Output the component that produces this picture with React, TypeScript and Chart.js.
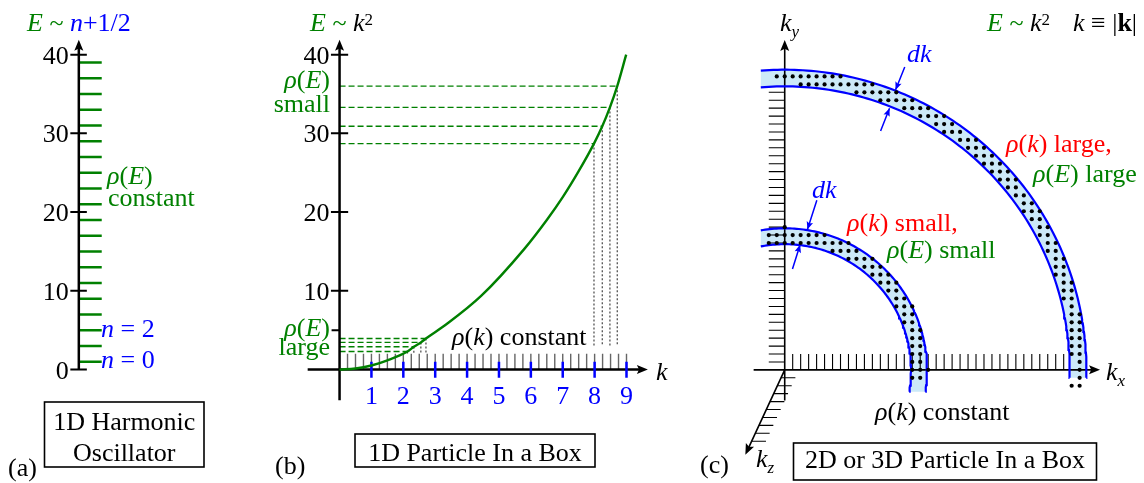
import React, { useEffect, useRef } from "react";
import { Chart, registerables } from "chart.js";

Chart.register(...registerables);

const W = 1144;
const H = 483;
const FONT = '"Liberation Serif", "Times New Roman", serif';
const FS = 26;
const FS_SMALL = 17;
const GREEN = "#008000";
const BLUE = "#0000ff";
const RED = "#ff0000";
const BLACK = "#000000";
const GRAY = "#666666";
const DOT_GRAY = "#444444";
const RING_FILL = "#cce9f8";

// ---------------- Panel (a): 1D harmonic oscillator ----------------
const oscLevelE = [1, 3, 5, 7, 9, 11, 13, 15, 17, 19, 21, 23, 25, 27, 29, 31, 33, 35, 37, 39];
const oscTickE = [0, 10, 20, 30, 40];

// ---------------- Panel (b): 1D particle in a box ----------------
const boxTickE = [10, 20, 30, 40];
const boxMinorTickE = [5];
const boxKTicks = [1, 2, 3, 4, 5, 6, 7, 8, 9];
const boxStateK = Array.from({ length: 36 }, (_, i) => (i + 1) / 4);
const curveK = [0, 0.5, 1, 1.5, 2.13, 2.33, 2.55, 2.71, 3.35, 4.44, 5.79, 6.5, 7.0, 7.5, 7.98, 8.24, 8.48, 8.71, 8.99];
const curveE = [0, 0.13, 0.52, 1.18, 2.3, 2.9, 3.45, 3.95, 5.75, 9.35, 15.3, 19.0, 21.9, 25.2, 28.7, 30.9, 33.3, 36.0, 40.0];
const denseK = [2.13, 2.33, 2.55, 2.71];
const denseE = [2.3, 2.9, 3.45, 3.95];
const sparseK = [7.98, 8.24, 8.48, 8.71];
const sparseE = [28.7, 30.9, 33.3, 36.0];

// ---------------- Panel (c): 2D / 3D particle in a box ----------------
const ringInnerR = [15.85, 35.75];
const ringOuterR = [17.85, 37.85];
const ringCutX = [-3, -3];
const ringCutY = [-2.75, -1];
const ringDotMinR = [15.95, 36.02];
const ringDotMaxR = [18.01, 37.8];
const ringDotMinI = [-2, -1];
const ringDotMinJ = [-1, -2];
const kxTickCount = 35;
const kyTickCount = 35;
const kzTickCount = 9;
const kzTip = [-4.94, -10.71];
const dkFromX = [15.06, 12.03, 4.03, 0.975];
const dkFromY = [38.2, 30.13, 21.38, 12.71];
const dkToX = [13.9, 13.15, 2.85, 1.94];
const dkToY = [35.3, 33.0, 17.7, 15.8];

// ---------------- helpers ----------------
const segData = (segs: number[][]) => {
  const out: any[] = [];
  segs.forEach(([x1, y1, x2, y2]) => {
    out.push({ x: x1, y: y1 }, { x: x2, y: y2 }, { x: x2, y: null });
  });
  return out;
};

const arcPts = (R: number, cutX: number, cutY: number) => {
  const a0 = Math.asin(cutY / R);
  const a1 = Math.acos(cutX / R);
  const n = 120;
  const pts: any[] = [];
  for (let s = 0; s <= n; s++) {
    const a = a0 + ((a1 - a0) * s) / n;
    pts.push({ x: R * Math.cos(a), y: R * Math.sin(a) });
  }
  return pts;
};

const span = (origin: number, perUnit: number, size: number, up: boolean) =>
  up
    ? { min: -(size - origin) / perUnit, max: origin / perUnit }
    : { min: -origin / perUnit, max: (size - origin) / perUnit };

function buildDatasets() {
  const L = (data: any[], xAxisID: string, yAxisID: string, color: string, width: number, extra: any = {}) => ({
    data,
    xAxisID,
    yAxisID,
    showLine: true,
    borderColor: color,
    backgroundColor: color,
    borderWidth: width,
    pointRadius: 0,
    pointHoverRadius: 0,
    pointHitRadius: 0,
    fill: false,
    order: 5,
    ...extra,
  });
  const ds: any[] = [];

  // panel (a)
  ds.push(L(segData(oscLevelE.map((e) => [0, e, 1, e])), "xa", "yE", GREEN, 2.5));
  ds.push(L(segData(oscTickE.map((e) => [-0.37, e, 0.35, e])), "xa", "yE", BLACK, 2));
  ds.push(L([{ x: 0, y: 0 }, { x: 0, y: 41.2 }], "xa", "yE", BLACK, 2.5, { order: 4 }));

  // panel (b)
  ds.push(L(segData(boxStateK.map((k) => [k, 0, k, 2])), "xk", "yE", GRAY, 1.4, { order: 6 }));
  ds.push(
    L(
      segData([
        ...sparseK.map((k, i) => [0, sparseE[i], k, sparseE[i]]),
        ...denseK.map((k, i) => [0, denseE[i], k, denseE[i]]),
      ]),
      "xk",
      "yE",
      GREEN,
      1.4,
      { borderDash: [6, 3] }
    )
  );
  ds.push(
    L(
      segData([
        ...sparseK.map((k, i) => [k, sparseE[i], k, 3]),
        ...denseK.map((k, i) => [k, denseE[i], k, 2]),
      ]),
      "xk",
      "yE",
      DOT_GRAY,
      1.2,
      { borderDash: [2, 2] }
    )
  );
  ds.push(
    L(curveK.map((k, i) => ({ x: k, y: curveE[i] })), "xk", "yE", GREEN, 2.4, {
      cubicInterpolationMode: "monotone",
      order: 3,
    })
  );
  ds.push(L(segData(boxKTicks.map((k) => [k, 1.0, k, -1.05])), "xk", "yE", BLUE, 2.5, { order: 3 }));
  ds.push(
    L(
      segData([...boxTickE.map((e) => [-0.27, e, 0.27, e]), ...boxMinorTickE.map((e) => [-0.25, e, 0, e])]),
      "xk",
      "yE",
      BLACK,
      2
    )
  );
  ds.push(L([{ x: 0, y: -3.9 }, { x: 0, y: 41.2 }], "xk", "yE", BLACK, 2.5, { order: 4 }));
  ds.push(L([{ x: -1, y: 0 }, { x: 9.5, y: 0 }], "xk", "yE", BLACK, 2.5, { order: 4 }));

  // panel (c): rings
  ringInnerR.forEach((rin, r) => {
    const outer = arcPts(ringOuterR[r], ringCutX[r], ringCutY[r]);
    const inner = arcPts(rin, ringCutX[r], ringCutY[r]);
    ds.push({
      data: [...outer, ...inner.slice().reverse()],
      xAxisID: "xc",
      yAxisID: "yc",
      showLine: false,
      pointRadius: 0,
      pointHoverRadius: 0,
      polyFill: RING_FILL,
      order: 20,
    });
    ds.push(L(outer, "xc", "yc", BLUE, 2.2, { order: 2 }));
    ds.push(L(inner, "xc", "yc", BLUE, 2.2, { order: 2 }));
  });

  // panel (c): lattice ticks
  const kxT: number[][] = [];
  for (let i = 1; i <= kxTickCount; i++) kxT.push([i, 0, i, 2]);
  const kyT: number[][] = [];
  for (let j = 1; j <= kyTickCount; j++) kyT.push([-2, j, 0, j]);
  const kzT: number[][] = [];
  for (let m = 1; m <= kzTickCount; m++) {
    const x0 = (kzTip[0] / -kzTip[1]) * m;
    kzT.push([x0, -m, x0 + 1.8, -m]);
  }
  ds.push(L(segData([...kxT, ...kyT, ...kzT]), "xc", "yc", BLACK, 1.1));

  // panel (c): axes
  ds.push(
    L(
      segData([
        [-3.9, 0, 39.0, 0],
        [0, -3.85, 0, 41.0],
        [0, 0, kzTip[0] * 0.93, kzTip[1] * 0.93],
      ]),
      "xc",
      "yc",
      BLACK,
      1.6,
      { order: 4 }
    )
  );

  // panel (c): dk arrow shafts
  ds.push(
    L(
      segData(dkFromX.map((x, i) => [x, dkFromY[i], dkToX[i], dkToY[i]])),
      "xc",
      "yc",
      BLUE,
      1.5,
      { order: 1 }
    )
  );

  // panel (c): states (lattice points in the shells)
  const dots: any[] = [];
  for (let r = 0; r < 2; r++) {
    for (let i = ringDotMinI[r]; i <= 40; i++) {
      for (let j = ringDotMinJ[r]; j <= 40; j++) {
        const d = Math.hypot(i, j);
        if (d >= ringDotMinR[r] && d <= ringDotMaxR[r]) dots.push({ x: i, y: j });
      }
    }
  }
  ds.push({
    data: dots,
    xAxisID: "xc",
    yAxisID: "yc",
    showLine: false,
    pointRadius: 2.1,
    pointHoverRadius: 2.1,
    backgroundColor: BLACK,
    borderColor: BLACK,
    borderWidth: 0,
    order: 0,
  });
  return ds;
}

// ---------------- text helpers ----------------
type Seg = { t: string; c?: string; i?: boolean; b?: boolean; sup?: boolean; sub?: boolean };
const it = (t: string, c = BLACK): Seg => ({ t, c, i: true });
const rm = (t: string, c = BLACK): Seg => ({ t, c });
const rho = (v: string, c: string): Seg[] => [it("ρ", c), rm("(", c), it(v, c), rm(")", c)];

const segFont = (s: Seg) => {
  const sz = s.sup || s.sub ? FS_SMALL : FS;
  return `${s.i ? "italic " : ""}${s.b ? "bold " : ""}${sz}px ${FONT}`;
};

function drawRich(ctx: CanvasRenderingContext2D, x: number, y: number, segs: Seg[], align = "left") {
  let w = 0;
  segs.forEach((s) => {
    ctx.font = segFont(s);
    w += ctx.measureText(s.t).width;
  });
  let cx = align === "left" ? x : align === "right" ? x - w : x - w / 2;
  ctx.textAlign = "left";
  ctx.textBaseline = "alphabetic";
  segs.forEach((s) => {
    ctx.font = segFont(s);
    ctx.fillStyle = s.c || BLACK;
    const dy = s.sup ? -6 : s.sub ? 6 : 0;
    ctx.fillText(s.t, cx, y + dy);
    cx += ctx.measureText(s.t).width;
  });
}

const annotations: { x: number; y: number; segs: Seg[]; align?: string }[] = [
  // panel (a)
  { x: 27, y: 30.5, segs: [it("E", GREEN), rm(" ~ ", GREEN), it("n", BLUE), rm("+1/2", BLUE)] },
  { x: 107, y: 184, segs: rho("E", GREEN) },
  { x: 108, y: 206, segs: [rm("constant", GREEN)] },
  { x: 101, y: 337, segs: [it("n", BLUE), rm(" = 2", BLUE)] },
  { x: 101, y: 368, segs: [it("n", BLUE), rm(" = 0", BLUE)] },
  { x: 8, y: 476, segs: [rm("(a)")] },
  // panel (b)
  { x: 310, y: 30.5, segs: [it("E", GREEN), rm(" ~ ", GREEN), it("k"), { t: "2", c: BLACK, sup: true }] },
  { x: 330, y: 88, segs: rho("E", GREEN), align: "right" },
  { x: 330, y: 111.5, segs: [rm("small", GREEN)], align: "right" },
  { x: 330, y: 336, segs: rho("E", GREEN), align: "right" },
  { x: 330, y: 354.5, segs: [rm("large", GREEN)], align: "right" },
  { x: 452, y: 345, segs: [...rho("k", BLACK), rm(" constant")] },
  { x: 656, y: 380, segs: [it("k")] },
  { x: 275, y: 474, segs: [rm("(b)")] },
  // panel (c)
  { x: 780, y: 30.7, segs: [it("k"), { t: "y", c: BLACK, i: true, sub: true }] },
  { x: 987, y: 30.7, segs: [it("E", GREEN), rm(" ~ ", GREEN), it("k"), { t: "2", c: BLACK, sup: true }] },
  { x: 1073, y: 30.7, segs: [it("k"), rm(" ≡ |"), { t: "k", c: BLACK, b: true }, rm("|")] },
  { x: 907, y: 62, segs: [it("dk", BLUE)] },
  { x: 812, y: 198, segs: [it("dk", BLUE)] },
  { x: 1006, y: 152, segs: [...rho("k", RED), rm(" large,", RED)] },
  { x: 1033, y: 182, segs: [...rho("E", GREEN), rm(" large", GREEN)] },
  { x: 847, y: 230.5, segs: [...rho("k", RED), rm(" small,", RED)] },
  { x: 887, y: 258, segs: [...rho("E", GREEN), rm(" small", GREEN)] },
  { x: 875, y: 420, segs: [...rho("k", BLACK), rm(" constant")] },
  { x: 1106, y: 380, segs: [it("k"), { t: "x", c: BLACK, i: true, sub: true }] },
  { x: 756, y: 467, segs: [it("k"), { t: "z", c: BLACK, i: true, sub: true }] },
  { x: 700, y: 473, segs: [rm("(c)")] },
];

const boxes = [
  { x: 44.5, y: 402, w: 159.5, h: 65, lines: [{ t: "1D Harmonic", y: 430 }, { t: "Oscillator", y: 461 }] },
  { x: 355, y: 434, w: 240, h: 33, lines: [{ t: "1D Particle In a Box", y: 461 }] },
  { x: 793.5, y: 443, w: 303, h: 37, lines: [{ t: "2D or 3D Particle In a Box", y: 468 }] },
];

const axisArrows = [
  { xs: "xa", ys: "yE", from: [0, 40], to: [0, 41.89] },
  { xs: "xk", ys: "yE", from: [0, 40], to: [0, 41.89] },
  { xs: "xk", ys: "yE", from: [9, 0], to: [9.67, 0] },
  { xs: "xc", ys: "yc", from: [0, 40], to: [0, 41.6] },
  { xs: "xc", ys: "yc", from: [38, 0], to: [39.56, 0] },
  { xs: "xc", ys: "yc", from: [0, 0], to: kzTip },
];

function arrowHead(ctx: CanvasRenderingContext2D, x1: number, y1: number, x2: number, y2: number, len: number, hw: number, color: string) {
  const ang = Math.atan2(y2 - y1, x2 - x1);
  ctx.save();
  ctx.translate(x2, y2);
  ctx.rotate(ang);
  ctx.beginPath();
  ctx.moveTo(0, 0);
  ctx.lineTo(-len, hw);
  ctx.lineTo(-len * 0.8, 0);
  ctx.lineTo(-len, -hw);
  ctx.closePath();
  ctx.fillStyle = color;
  ctx.fill();
  ctx.restore();
}

const diagramPlugin = {
  id: "diagram",
  beforeDatasetsDraw(chart: any) {
    const ctx = chart.ctx;
    chart.data.datasets.forEach((ds: any, i: number) => {
      if (!ds.polyFill) return;
      const pts = chart.getDatasetMeta(i).data;
      ctx.save();
      ctx.beginPath();
      pts.forEach((p: any, k: number) => (k ? ctx.lineTo(p.x, p.y) : ctx.moveTo(p.x, p.y)));
      ctx.closePath();
      ctx.fillStyle = ds.polyFill;
      ctx.fill();
      ctx.restore();
    });
  },
  afterDatasetsDraw(chart: any) {
    const ctx: CanvasRenderingContext2D = chart.ctx;
    const px = (s: string, v: number) => chart.scales[s].getPixelForValue(v);

    // arrowheads on axes
    axisArrows.forEach((a) => {
      arrowHead(ctx, px(a.xs, a.from[0]), px(a.ys, a.from[1]), px(a.xs, a.to[0]), px(a.ys, a.to[1]), 11, 4.5, BLACK);
    });
    // dk arrowheads
    dkFromX.forEach((x, i) => {
      arrowHead(ctx, px("xc", x), px("yc", dkFromY[i]), px("xc", dkToX[i]), px("yc", dkToY[i]), 8, 3.3, BLUE);
    });

    // tick labels
    oscTickE.forEach((e) => drawRich(ctx, px("xa", 0) - 10, px("yE", e) + 9, [rm(String(e))], "right"));
    boxTickE.forEach((e) => drawRich(ctx, px("xk", 0) - 10, px("yE", e) + 9, [rm(String(e))], "right"));
    boxKTicks.forEach((k) => drawRich(ctx, px("xk", k), px("yE", 0) + 34, [rm(String(k), BLUE)], "center"));

    // annotations
    annotations.forEach((a) => drawRich(ctx, a.x, a.y, a.segs, a.align || "left"));

    // boxes
    boxes.forEach((b) => {
      ctx.save();
      ctx.fillStyle = "#ffffff";
      ctx.fillRect(b.x, b.y, b.w, b.h);
      ctx.strokeStyle = BLACK;
      ctx.lineWidth = 1.6;
      ctx.strokeRect(b.x, b.y, b.w, b.h);
      ctx.restore();
      b.lines.forEach((l) => drawRich(ctx, b.x + b.w / 2, l.y, [rm(l.t)], "center"));
    });
  },
};

export default function App() {
  const ref = useRef<HTMLCanvasElement>(null);
  useEffect(() => {
    const lin = (axis: string, r: any) => ({
      type: "linear",
      axis,
      display: false,
      min: r.min,
      max: r.max,
      grid: { display: false },
      ticks: { display: false },
    });
    const chart = new Chart(ref.current as HTMLCanvasElement, {
      type: "scatter",
      data: { datasets: buildDatasets() },
      options: {
        responsive: false,
        maintainAspectRatio: false,
        animation: false,
        devicePixelRatio: 1,
        events: [],
        layout: { padding: 0 },
        plugins: { legend: { display: false }, tooltip: { enabled: false } },
        scales: {
          xa: lin("x", span(77, 23, W, false)),
          xk: lin("x", span(338.7, 32, W, false)),
          xc: lin("x", span(785.5, 8, W, false)),
          yE: lin("y", span(370.7, 7.9425, H, true)),
          yc: lin("y", span(371, 8, H, true)),
        },
      } as any,
      plugins: [diagramPlugin as any],
    } as any);
    return () => chart.destroy();
  }, []);
  return (
    <div style={{ position: "absolute", left: 0, top: 0, width: W, height: H, background: "#ffffff" }}>
      <canvas ref={ref} width={W} height={H} style={{ width: W, height: H, display: "block" }} />
    </div>
  );
}
